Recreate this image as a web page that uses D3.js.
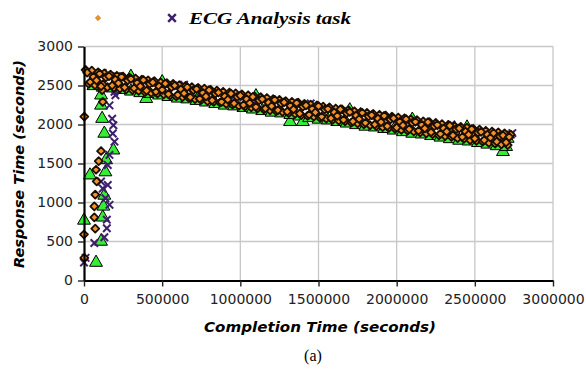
<!DOCTYPE html>
<html>
<head>
<meta charset="utf-8">
<script src="https://cdn.jsdelivr.net/npm/d3@7"></script>
<style>
  body { margin: 0; background: #fff; }
  svg { display: block; }
</style>
</head>
<body>
<svg id="chart" width="586" height="369"></svg>
<script>
// tick values
const xTicks = [0, 500000, 1000000, 1500000, 2000000, 2500000, 3000000];
const yTicks = [0, 500, 1000, 1500, 2000, 2500, 3000];

// series 1: orange diamonds  [completion time, response time]
const orangeRise = [[2000,2100],[0,590],[2000,290],[72000,665],[66000,810],[66000,950],[72000,1100],
  [81000,1270],[77000,1420],[94000,1530],[109000,1660],[120000,2290],[116000,2440],[109000,2490]];
const orangeBand = [[20000,2665],[40000,2545],[60000,2610],[80000,2565],[100000,2650],[120000,2515],
  [140000,2605],[160000,2620],[180000,2500],[200000,2575],[220000,2530],[240000,2610],[260000,2475],
  [280000,2565],[300000,2585],[320000,2465],[340000,2535],[360000,2490],[380000,2570],[400000,2435],
  [420000,2520],[440000,2540],[460000,2420],[480000,2490],[500000,2445],[520000,2525],[540000,2390],
  [560000,2480],[580000,2500],[600000,2380],[620000,2450],[640000,2400],[660000,2480],[680000,2350],
  [700000,2440],[720000,2455],[740000,2330],[760000,2405],[780000,2360],[800000,2440],[820000,2310],
  [840000,2395],[860000,2410],[880000,2290],[900000,2360],[920000,2320],[940000,2395],[960000,2270],
  [980000,2355],[1000000,2370],[1020000,2250],[1040000,2325],[1060000,2275],[1080000,2355],[1100000,2225],
  [1120000,2310],[1140000,2325],[1160000,2205],[1180000,2280],[1200000,2235],[1220000,2315],[1240000,2185],
  [1260000,2270],[1280000,2285],[1300000,2165],[1320000,2240],[1340000,2195],[1360000,2275],[1380000,2140],
  [1400000,2230],[1420000,2245],[1440000,2125],[1460000,2200],[1480000,2155],[1500000,2235],[1520000,2100],
  [1540000,2190],[1560000,2200],[1580000,2080],[1600000,2155],[1620000,2110],[1640000,2195],[1660000,2060],
  [1680000,2145],[1700000,2160],[1720000,2040],[1740000,2115],[1760000,2070],[1780000,2150],[1800000,2020],
  [1820000,2105],[1840000,2120],[1860000,2000],[1880000,2075],[1900000,2030],[1920000,2110],[1940000,1980],
  [1960000,2065],[1980000,2080],[2000000,1960],[2020000,2035],[2040000,1990],[2060000,2070],[2080000,1940],
  [2100000,2020],[2120000,2035],[2140000,1920],[2160000,1995],[2180000,1950],[2200000,2030],[2220000,1900],
  [2240000,1980],[2260000,1995],[2280000,1880],[2300000,1950],[2320000,1910],[2340000,1985],[2360000,1860],
  [2380000,1940],[2400000,1950],[2420000,1840],[2440000,1910],[2460000,1870],[2480000,1940],[2500000,1820],
  [2520000,1895],[2540000,1905],[2560000,1800],[2580000,1870],[2600000,1830],[2620000,1890],[2640000,1780],
  [2660000,1850],[2680000,1860],[2700000,1770],[2720000,1840]];
const orangeEdge = [[10000,2700],[30000,2520],[50000,2690],[70000,2505],[90000,2670],[110000,2495],
  [130000,2655],[150000,2480],[170000,2640],[190000,2470],[210000,2625],[230000,2460],[250000,2615],
  [270000,2450],[290000,2600],[310000,2440],[330000,2590],[350000,2430],[370000,2575],[390000,2415],
  [410000,2565],[430000,2405],[450000,2555],[470000,2395],[490000,2540],[510000,2385],[530000,2530],
  [550000,2370],[570000,2520],[590000,2360],[610000,2505],[630000,2350],[650000,2495],[670000,2340],
  [690000,2480],[710000,2325],[730000,2470],[750000,2315],[770000,2460],[790000,2300],[810000,2445],
  [830000,2290],[850000,2435],[870000,2280],[890000,2420],[910000,2265],[930000,2410],[950000,2255],
  [970000,2400],[990000,2240],[1010000,2385],[1030000,2230],[1050000,2375],[1070000,2220],[1090000,2360],
  [1110000,2205],[1130000,2350],[1150000,2195],[1170000,2340],[1190000,2180],[1210000,2325],[1230000,2170],
  [1250000,2315],[1270000,2160],[1290000,2300],[1310000,2145],[1330000,2290],[1350000,2135],[1370000,2280],
  [1390000,2120],[1410000,2265],[1430000,2110],[1450000,2255],[1470000,2100],[1490000,2245],[1510000,2085],
  [1530000,2230],[1550000,2075],[1570000,2220],[1590000,2060],[1610000,2205],[1630000,2050],[1650000,2195],
  [1670000,2040],[1690000,2185],[1710000,2025],[1730000,2170],[1750000,2015],[1770000,2160],[1790000,2000],
  [1810000,2150],[1830000,1990],[1850000,2135],[1870000,1980],[1890000,2125],[1910000,1965],[1930000,2115],
  [1950000,1955],[1970000,2100],[1990000,1945],[2010000,2090],[2030000,1930],[2050000,2080],[2070000,1920],
  [2090000,2065],[2110000,1910],[2130000,2055],[2150000,1895],[2170000,2040],[2190000,1885],[2210000,2030],
  [2230000,1875],[2250000,2020],[2270000,1860],[2290000,2005],[2310000,1850],[2330000,1995],[2350000,1840],
  [2370000,1980],[2390000,1825],[2410000,1970],[2430000,1815],[2450000,1960],[2470000,1800],[2490000,1945],
  [2510000,1790],[2530000,1935],[2550000,1780],[2570000,1920],[2590000,1765],[2610000,1910],[2630000,1755],
  [2650000,1900],[2670000,1745],[2690000,1885],[2710000,1735],[2730000,1870]];

// series 2: purple crosses
const purpleRise = [[0,230],[10000,290],[66000,480],[130000,555],[146000,670],[146000,780],[163000,970],
  [137000,1055],[120000,1180],[109000,1270],[152000,1225],[152000,1480],[163000,1610],[195000,1780],
  [184000,1885],[188000,1990],[180000,2075],[163000,2245],[195000,2420],[201000,2375]];
const purpleBand = [[30000,2690],[120000,2660],[210000,2620],[300000,2590],[390000,2560],[480000,2520],
  [570000,2500],[660000,2460],[750000,2430],[840000,2410],[930000,2380],[1020000,2350],[1110000,2320],
  [1200000,2300],[1290000,2270],[1380000,2250],[1470000,2220],[1560000,2200],[1650000,2170],[1740000,2140],
  [1830000,2110],[1920000,2090],[2010000,2060],[2100000,2030],[2190000,2000],[2280000,1980],[2370000,1950],
  [2460000,1920],[2550000,1900],[2640000,1870],[2730000,1870]];
const purpleTop = [[640000,2510],[1450000,2270],[2350000,2000],[2740000,1890]];

// series 3: green triangles
const greenRise = [[0,770],[77000,230],[38000,1350],[109000,500],[120000,810],[124000,950],[130000,1090],
  [137000,1390],[141000,1545],[188000,1670],[130000,1885],[116000,2075],[109000,2245],[109000,2375]];
const greenBand = [[60000,2495],[120000,2475],[180000,2465],[240000,2445],[300000,2425],[360000,2405],
  [398000,2330],[420000,2395],[480000,2375],[540000,2355],[600000,2335],[660000,2325],
  [720000,2305],[780000,2285],[840000,2265],[900000,2245],[960000,2235],[1020000,2215],[1080000,2195],
  [1140000,2175],[1200000,2155],[1260000,2145],[1318000,2035],[1320000,2125],[1380000,2105],
  [1400000,2035],[1440000,2085],[1500000,2065],[1560000,2055],[1620000,2035],[1680000,2015],
  [1740000,1995],[1800000,1975],[1860000,1965],[1920000,1945],[1980000,1925],[2040000,1905],[2100000,1885],
  [2160000,1875],[2220000,1855],[2280000,1835],[2340000,1815],[2400000,1795],
  [2460000,1785],[2520000,1765],[2580000,1745],[2640000,1725],[2680000,1650],[2700000,1715],[2710000,1820]];
const greenTop = [[300000,2615],[500000,2545],[1100000,2365],[1700000,2185],[2100000,2065],[2450000,1965]];

const svg = d3.select('#chart');
const x = d3.scaleLinear().domain([0, 3000000]).range([84, 553]);
const y = d3.scaleLinear().domain([0, 3000]).range([280.5, 46.5]);

// gridlines
svg.append('g').selectAll('line')
  .data(xTicks.slice(1)).enter().append('line')
  .attr('x1', d => x(d)).attr('x2', d => x(d))
  .attr('y1', y(0)).attr('y2', y(3000))
  .attr('stroke', '#c8c8c8').attr('stroke-width', 1.3);
svg.append('g').selectAll('line')
  .data(yTicks.slice(1)).enter().append('line')
  .attr('x1', x(0)).attr('x2', x(3000000))
  .attr('y1', d => y(d)).attr('y2', d => y(d))
  .attr('stroke', '#c8c8c8').attr('stroke-width', 1.3);

// markers
const tri = d3.symbol().type(d3.symbolTriangle).size(72);
const dia = d3.symbol().type(d3.symbolDiamond2 || d3.symbolDiamond).size(40);
const cross = d3.symbol().type(d3.symbolX).size(38);
const place = d => `translate(${x(d[0])},${y(d[1])})`;

const plot = svg.append('g');
plot.append('g').selectAll('path').data(greenTop.concat(greenBand, greenRise)).enter().append('path')
  .attr('d', tri).attr('transform', place)
  .attr('fill', '#33ee33').attr('stroke', '#000').attr('stroke-width', 1);
plot.append('g').selectAll('path').data(purpleTop.concat(purpleBand, purpleRise)).enter().append('path')
  .attr('d', cross).attr('transform', place)
  .attr('fill', 'none').attr('stroke', '#3d1f6b').attr('stroke-width', 2);
plot.append('g').selectAll('path').data(orangeEdge.concat(orangeBand, orangeRise)).enter().append('path')
  .attr('d', dia).attr('transform', place)
  .attr('fill', '#f3922a').attr('stroke', '#1c0e00').attr('stroke-width', 1.8)
  .attr('stroke-linejoin', 'round');

// axes
const yAxis = svg.append('g')
  .attr('transform', `translate(${x(0)},0)`)
  .call(d3.axisLeft(y).tickValues(yTicks).tickFormat(d3.format('d')).tickSize(6).tickPadding(5).tickSizeOuter(0));
const xAxis = svg.append('g')
  .attr('transform', `translate(0,${y(0)})`)
  .call(d3.axisBottom(x).tickValues(xTicks).tickFormat(d3.format('d')).tickSize(6).tickPadding(8).tickSizeOuter(0));
[yAxis, xAxis].forEach(a => {
  a.select('.domain').attr('stroke', '#000').attr('stroke-width', 2.2);
  a.selectAll('.tick line').attr('stroke', '#222').attr('stroke-width', 1.4);
  a.selectAll('.tick text').attr('fill', '#222')
    .style('font-family', 'DejaVu Sans, sans-serif').style('font-size', '14px');
});

// axis titles
svg.append('text')
  .attr('x', 320).attr('y', 332)
  .attr('text-anchor', 'middle')
  .attr('textLength', 232).attr('lengthAdjust', 'spacingAndGlyphs')
  .style('font-family', 'DejaVu Sans, sans-serif').style('font-size', '14px')
  .style('font-weight', 'bold').style('font-style', 'italic')
  .text('Completion Time (seconds)');
svg.append('text')
  .attr('transform', 'translate(24,164) rotate(-90)')
  .attr('text-anchor', 'middle')
  .attr('textLength', 208).attr('lengthAdjust', 'spacingAndGlyphs')
  .style('font-family', 'DejaVu Sans, sans-serif').style('font-size', '14px')
  .style('font-weight', 'bold').style('font-style', 'italic')
  .text('Response Time (seconds)');

// caption
svg.append('text')
  .attr('x', 313).attr('y', 361)
  .attr('text-anchor', 'middle')
  .style('font-family', 'Liberation Serif, serif').style('font-size', '16px')
  .text('(a)');

// legend
svg.append('path')
  .attr('d', d3.symbol().type(d3.symbolDiamond2 || d3.symbolDiamond).size(18))
  .attr('transform', 'translate(98,18)')
  .attr('fill', '#f3922a').attr('stroke', '#b06a10').attr('stroke-width', 0.6);
svg.append('path')
  .attr('d', d3.symbol().type(d3.symbolX).size(40))
  .attr('transform', 'translate(172,18)')
  .attr('fill', 'none').attr('stroke', '#3d1f6b').attr('stroke-width', 2.4);
svg.append('text')
  .attr('x', 189).attr('y', 24)
  .attr('textLength', 162).attr('lengthAdjust', 'spacingAndGlyphs')
  .style('font-family', 'Liberation Serif, serif').style('font-size', '17px')
  .style('font-weight', 'bold').style('font-style', 'italic')
  .text('ECG Analysis task');
</script>
</body>
</html>
